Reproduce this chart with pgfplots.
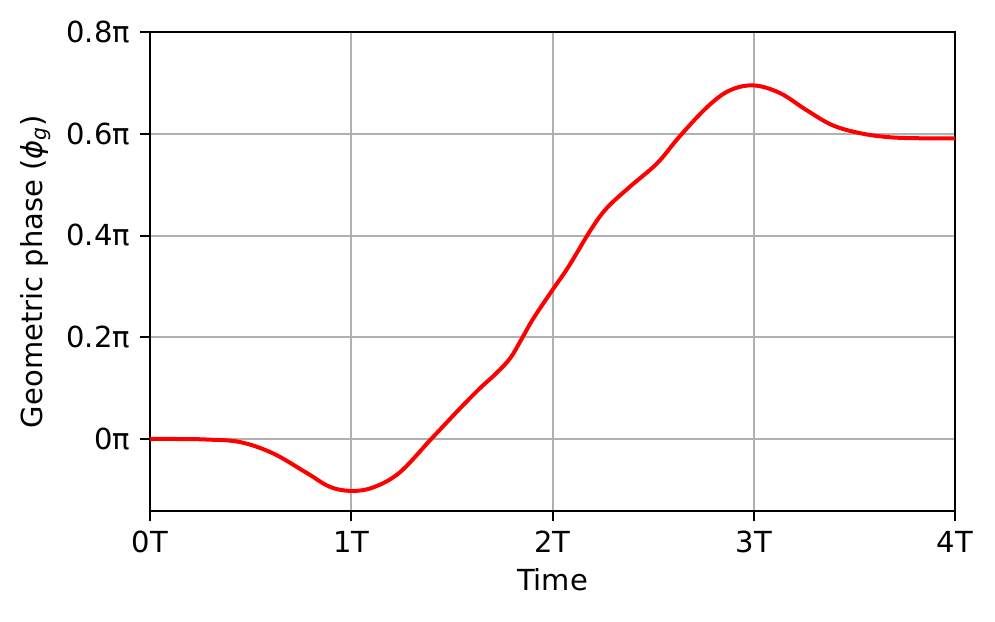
\documentclass[border=0pt]{standalone}
\usepackage{fontspec}
\setmainfont{DejaVu Sans}
\usepackage{pgfplots}
\pgfplotsset{compat=1.18}
\usepackage{pgfplotstable}
\pgfplotstableread{
t v
0 0
0.14 0.0
0.28 -0.001
0.447 -0.006
0.61 -0.028
0.78 -0.067
0.894 -0.094
1.0 -0.102
1.11 -0.095
1.24 -0.066
1.39 -0.003
1.44 0.018
1.54 0.060
1.64 0.100
1.72 0.129
1.79 0.159
1.85 0.199
1.905 0.237
2.0 0.293
2.08 0.339
2.19 0.411
2.27 0.454
2.385 0.496
2.52 0.542
2.63 0.594
2.77 0.653
2.88 0.685
3.0 0.695
3.13 0.680
3.26 0.647
3.39 0.617
3.53 0.601
3.68 0.593
3.85 0.591
4.0 0.591
}\phasedata
\definecolor{gridgray}{HTML}{B0B0B0}
\begin{document}
\fontsize{14.5pt}{17pt}\selectfont
\begin{tikzpicture}
\path[use as bounding box] (-75pt,-55pt) rectangle (422.5pt,255.5pt);
\begin{axis}[
  at={(0,0)}, anchor=south west,
  scale only axis,
  width=402.5pt, height=239.5pt,
  xmin=0, xmax=4, ymin=-0.1415, ymax=0.8,
  xtick={0,1,2,3,4},
  xticklabels={0T,1T,2T,3T,4T},
  ytick={0,0.2,0.4,0.6,0.8},
  yticklabels={0π,0.2π,0.4π,0.6π,0.8π},
  tick align=outside,
  tick pos=left,
  major tick length=5pt,
  every tick/.style={black, line width=1pt},
  axis line style={line width=1pt},
  grid=major,
  major grid style={gridgray, line width=1pt},
  xlabel={Time},
  ylabel={Geometric phase (\textit{ϕ\textsubscript{g}})},
  xticklabel style={font=\fontsize{14.5pt}{17pt}\selectfont},
  yticklabel style={font=\fontsize{14.5pt}{17pt}\selectfont},
  label style={font=\fontsize{14.5pt}{17pt}\selectfont},
  xlabel style={yshift=2pt},
  ylabel style={yshift=-2pt},
]
\addplot[red, line width=2pt, smooth, tension=0.6] table[x=t, y=v] {\phasedata};
\end{axis}
\end{tikzpicture}
\end{document}
